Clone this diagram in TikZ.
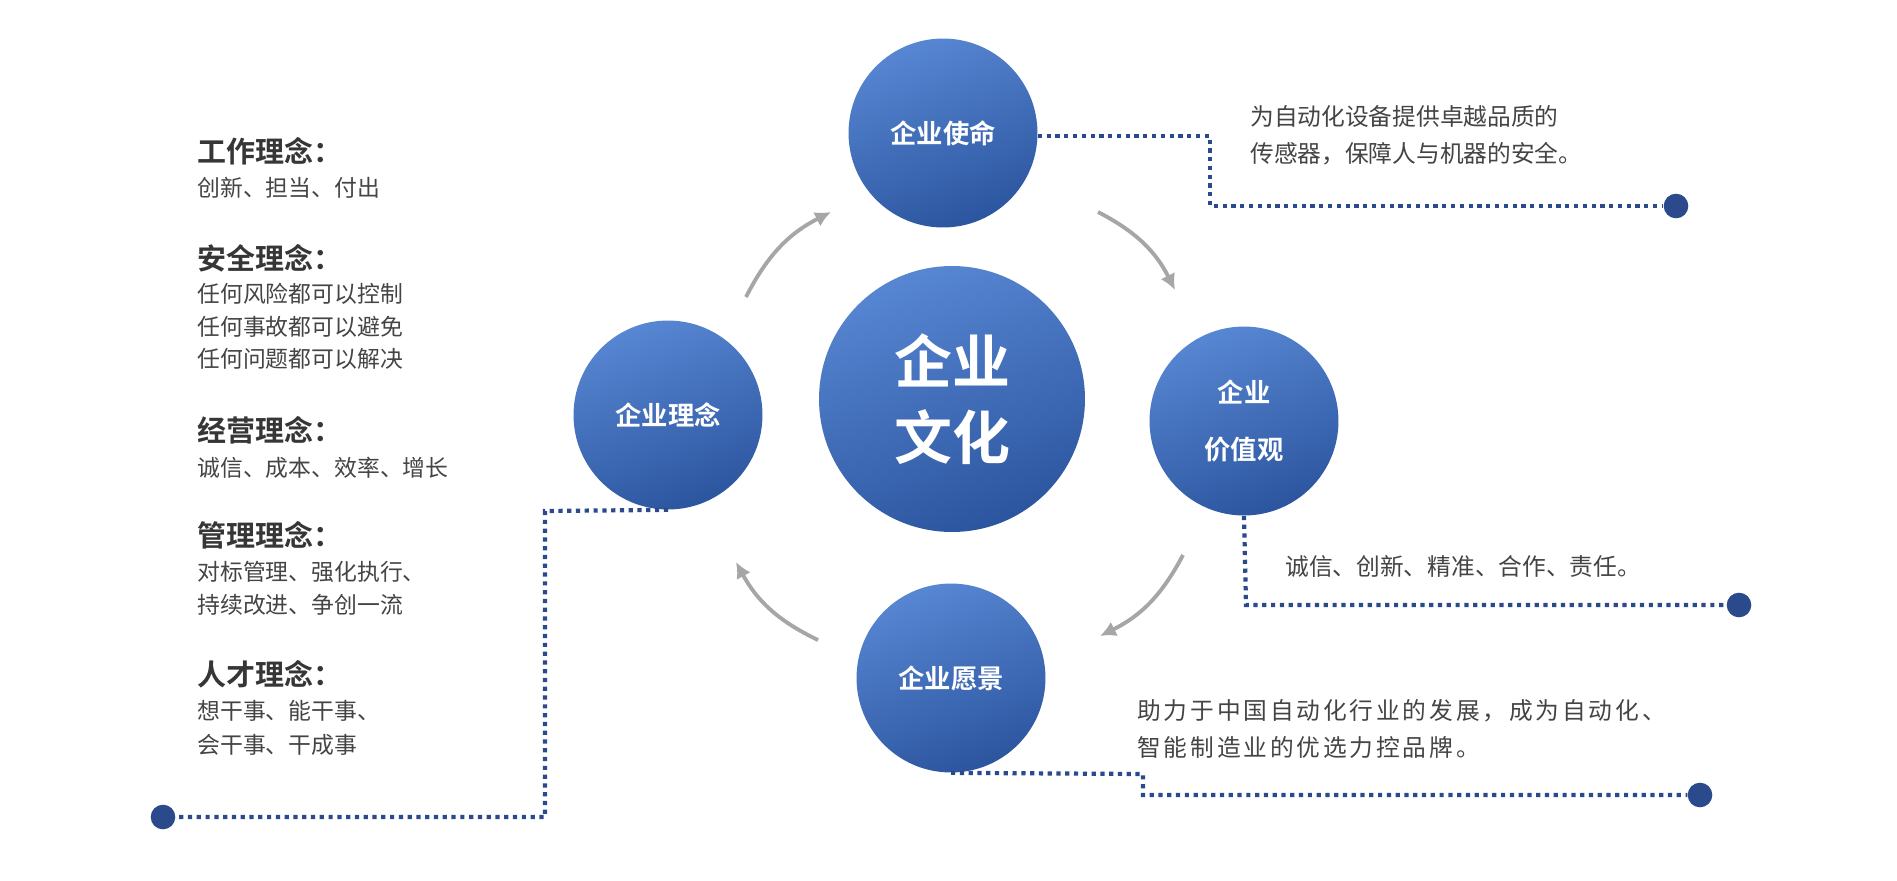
\documentclass[tikz,border=0pt]{standalone}
\usepackage{fontspec}
\setmainfont{Noto Sans CJK SC}[BoldFont={Noto Sans CJK SC Bold}]
\usepackage{xcolor}
\usetikzlibrary{arrows.meta}
\usetikzlibrary{positioning}
\usetikzlibrary{shapes.geometric}
\definecolor{balllight}{HTML}{5786D2}
\definecolor{balldark}{HTML}{2C559F}
\definecolor{dotblue}{HTML}{2B4A8C}
\definecolor{txtgray}{HTML}{444444}
\tikzset{
  ball/.style={circle, draw=none, inner sep=0pt, top color=balllight, bottom color=balldark,
    shading angle=20, text=white, font=\bfseries\fontsize{15}{18}\selectfont, align=center,
    minimum size=3.78cm},
  cyc/.style={draw=gray!70, line width=2.2pt, arrows={-Latex[length=9pt,width=9pt]}},
  dotline/.style={draw=dotblue, line width=2.4pt, dash pattern=on 2.4pt off 2.6pt},
  enddot/.style={circle, fill=dotblue, inner sep=0pt, minimum size=14pt},
  head/.style={anchor=west, inner sep=0pt, text=txtgray!80!black, font=\bfseries\fontsize{16.5}{18}\selectfont},
  line/.style={anchor=west, inner sep=0pt, text=txtgray, font=\fontsize{13}{15}\selectfont},
  rtxt/.style={anchor=west, inner sep=0pt, text=txtgray, font=\fontsize{13.5}{16}\selectfont, align=left}
}
\begin{document}
\begin{tikzpicture}[x=0.02cm,y=-0.02cm]
\useasboundingbox (0,0) rectangle (1897,880);
% circles
\node[ball, minimum size=5.32cm,
  font=\bfseries\fontsize{33}{43}\selectfont] (core) at (952,399) {企业\\文化};
\node[ball] (mission) at (943,133) {企业使命};
\node[ball] (idea) at (668,415) {企业理念};
\node[ball, font=\bfseries\fontsize{15}{32}\selectfont] (value) at (1244,421) {企业\\价值观};
\node[ball] (vision) at (951,678) {企业愿景};
% cycle arrows
\coordinate (a1) at (746,297); \coordinate (b1) at (831,212);
\coordinate (a2) at (1098,212); \coordinate (b2) at (1175,290);
\coordinate (a3) at (1183,555); \coordinate (b3) at (1100,636);
\coordinate (a4) at (818,640); \coordinate (b4) at (736,562);
\draw[cyc] (a1) to[bend left=18] (b1);
\draw[cyc] (a2) to[bend left=18] (b2);
\draw[cyc] (a3) to[bend left=18] (b3);
\draw[cyc] (a4) to[bend left=18] (b4);
% dotted leaders
\node[enddot] (m-end) at (1676,206) {};
\node[enddot] (v-end) at (1739,605) {};
\node[enddot] (s-end) at (1700,795) {};
\node[enddot] (i-end) at (163,817) {};
\draw[dotline] (mission.east |- 0,136) -- (1210,136) -- (1210,206) -- (m-end);
\draw[dotline] (value.south) -- (1246,605) -- (v-end);
\draw[dotline] (vision.south) -- (1143,774) -- (1143,795) -- (s-end);
\draw[dotline] (idea.south) -- (545,511) -- (545,817) -- (i-end);
% right texts
\node[rtxt] (mission-txt) at (1250,135) {为自动化设备提供卓越品质的\\[5pt]传感器，保障人与机器的安全。};
\node[rtxt] (value-txt) at (1285,566) {诚信、创新、精准、合作、责任。};
\node[rtxt, font=\fontsize{13.5}{16}\selectfont\addfontfeatures{LetterSpace=12}] (vision-txt) at (1137,729)
  {助力于中国自动化行业的发展，成为自动化、\\[5pt]智能制造业的优选力控品牌。};
% left texts
\node[head] (h1) at (197,151) {工作理念：};
\node[line] at (197,188) {创新、担当、付出};
\node[head] (h2) at (197,258) {安全理念：};
\node[line] at (197,294) {任何风险都可以控制};
\node[line] at (197,327) {任何事故都可以避免};
\node[line] at (197,359) {任何问题都可以解决};
\node[head] (h3) at (197,430) {经营理念：};
\node[line] at (197,468) {诚信、成本、效率、增长};
\node[head] (h4) at (197,535) {管理理念：};
\node[line] at (197,572) {对标管理、强化执行、};
\node[line] at (197,605) {持续改进、争创一流};
\node[head] (h5) at (197,674) {人才理念：};
\node[line] at (197,711) {想干事、能干事、};
\node[line] at (197,745) {会干事、干成事};
\end{tikzpicture}
\end{document}
